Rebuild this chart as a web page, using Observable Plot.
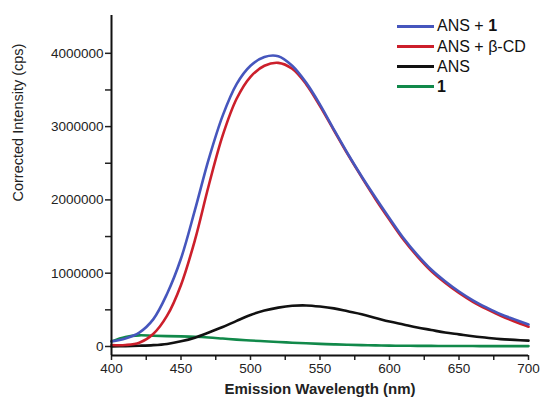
<!DOCTYPE html>
<html><head><meta charset="utf-8">
<script src="https://cdn.jsdelivr.net/npm/d3@7"></script>
<script src="https://cdn.jsdelivr.net/npm/@observablehq/plot@0.6"></script>
<style>
body{margin:0;background:#fff;}
#wrap{position:relative;width:540px;height:404px;font-family:"Liberation Sans",Arial,sans-serif;}
.leg{position:absolute;left:397px;height:20px;display:flex;align-items:center;font-size:16px;color:#111;white-space:nowrap;}
.leg .sw{width:37px;height:3px;margin-right:3px;}
</style></head><body><div id="wrap"></div>
<script>
const wavelength = [400,410,420,430,440,450,460,470,480,490,500,510,520,530,540,550,560,570,580,590,600,610,620,630,640,650,660,670,680,690,700];
const ansPlus1   = [70000,110000,190000,370000,720000,1200000,1860000,2560000,3150000,3580000,3830000,3950000,3960000,3830000,3600000,3300000,2960000,2630000,2320000,2030000,1750000,1480000,1250000,1050000,890000,750000,630000,530000,440000,370000,300000];
const ansPlusCD  = [20000,20000,50000,170000,420000,840000,1450000,2200000,2880000,3380000,3680000,3830000,3870000,3790000,3580000,3280000,2950000,2620000,2310000,2010000,1730000,1460000,1230000,1030000,870000,730000,610000,510000,420000,340000,270000];
const ans        = [0,5000,10000,18000,35000,70000,120000,190000,265000,350000,430000,490000,530000,555000,560000,545000,520000,480000,440000,390000,340000,300000,260000,225000,190000,165000,140000,120000,100000,90000,80000];
const cmpd1      = [70000,130000,152000,146000,142000,138000,132000,122000,108000,94000,82000,71000,61000,52000,44000,36000,29000,23000,19000,15000,12000,10000,9000,8000,7000,6000,6000,5000,5000,5000,5000];
const seriesNames = ["ANS + 1","ANS + β-CD","ANS","1"];
const seriesColors = ["#4656bd","#cc1f2b","#111111","#11894a"];
const xTicks = [400,450,500,550,600,650,700];
const xMinor = [425,475,525,575,625,675];
const yTicks = [0,1000000,2000000,3000000,4000000];
const yMinor = [500000,1500000,2500000,3500000];

const seriesValues = [ansPlus1, ansPlusCD, ans, cmpd1];
const tables = seriesValues.map((vals,k)=>wavelength.map((w,i)=>({w, v: vals[i], s: seriesNames[k]})));
const drawOrder = [3,2,1,0];

const plot = Plot.plot({
  width:540, height:404,
  marginLeft:111, marginRight:12, marginTop:15, marginBottom:49,
  style:{fontFamily:"Liberation Sans, Arial, sans-serif", fontSize:"13.5px", color:"#222", background:"#fff"},
  x:{domain:[400,700]},
  y:{domain:[-123000,4516000]},
  marks:[
    Plot.axisX({ticks:xTicks, tickSize:5, tickPadding:3, label:null, fontSize:13.5, strokeWidth:1.5}),
    Plot.axisX({ticks:xMinor, tickSize:5, tickFormat:()=>"", label:null, strokeWidth:1.5}),
    Plot.axisY({ticks:yTicks, tickSize:6, tickPadding:2, tickFormat:d=>String(d), label:null, fontSize:13.5, strokeWidth:1.5}),
    Plot.axisY({ticks:yMinor, tickSize:6, tickFormat:()=>"", label:null, strokeWidth:1.5}),
    ...drawOrder.map(k=>Plot.line(tables[k],{x:"w", y:"v", stroke:seriesColors[k], strokeWidth:2.6, curve:"catmull-rom"})),
    Plot.ruleX([400],{strokeWidth:2, stroke:"#111"}),
    Plot.ruleY([-123000],{strokeWidth:2, stroke:"#111"}),
    Plot.text(["Emission Wavelength (nm)"],{frameAnchor:"bottom", dy:38, fontWeight:"bold", fontSize:15, fill:"#222"}),
    Plot.text(["Corrected Intensity (cps)"],{frameAnchor:"left", dx:-93, dy:16, rotate:-90, fontSize:14.5, fill:"#222"})
  ]
});
const wrap = document.getElementById("wrap");
wrap.appendChild(plot);
const tops = [16,36.5,56.5,76.5];
seriesNames.forEach((n,k)=>{
  const d = document.createElement("div");
  d.className = "leg";
  d.style.top = tops[k]+"px";
  const sw = document.createElement("div");
  sw.className = "sw"; sw.style.background = seriesColors[k];
  d.appendChild(sw);
  const t = document.createElement("span");
  if (n === "ANS + 1") { t.innerHTML = "ANS + <b>1</b>"; }
  else if (n === "1") { t.innerHTML = "<b>1</b>"; }
  else t.textContent = n;
  d.appendChild(t);
  wrap.appendChild(d);
});
</script></body></html>
